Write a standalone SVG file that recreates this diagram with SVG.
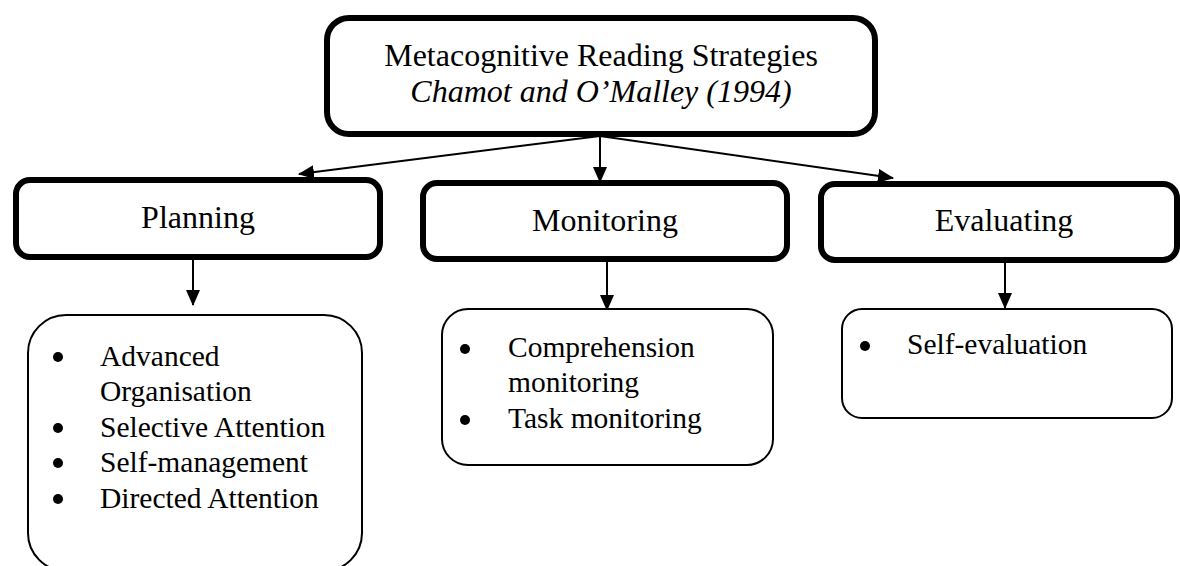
<svg xmlns="http://www.w3.org/2000/svg" width="1180" height="566" viewBox="0 0 1180 566">
<defs>
<style>
.head{fill:#fff;stroke:#000;stroke-width:6}
.sub{fill:#fff;stroke:#000;stroke-width:2}
.t{font-family:"Liberation Serif","Times New Roman",serif;font-size:32px;fill:#000}
.b{font-size:29.5px}
.c{text-anchor:middle}
.it{font-style:italic}
.con{stroke:#000;stroke-width:2;fill:none}
</style>
<marker id="ah" markerUnits="userSpaceOnUse" markerWidth="16" markerHeight="14" refX="15" refY="7" orient="auto">
<path d="M0,0 L16,7 L0,14 Z" fill="#000"/>
</marker>
</defs>
<rect width="1180" height="566" fill="#fff"/>
<g id="connectors">
<line class="con" x1="600" y1="136" x2="299" y2="174" marker-end="url(#ah)"/>
<line class="con" x1="600" y1="136" x2="600" y2="182" marker-end="url(#ah)"/>
<line class="con" x1="600" y1="136" x2="893" y2="178" marker-end="url(#ah)"/>
<line class="con" x1="193" y1="258" x2="193" y2="305" marker-end="url(#ah)"/>
<line class="con" x1="607" y1="261" x2="607" y2="310" marker-end="url(#ah)"/>
<line class="con" x1="1005" y1="260" x2="1005" y2="308" marker-end="url(#ah)"/>
</g>
<g id="root">
<rect class="head" x="327" y="18" width="548" height="116" rx="22"/>
<text class="t c" x="601" y="66">Metacognitive Reading Strategies</text>
<text class="t c it" x="601" y="102">Chamot and O’Malley (1994)</text>
</g>
<g id="planning">
<rect class="head" x="16" y="180" width="364" height="77" rx="14"/>
<text class="t c" x="198" y="228">Planning</text>
</g>
<g id="monitoring">
<rect class="head" x="423" y="183" width="364" height="76" rx="14"/>
<text class="t c" x="605" y="231">Monitoring</text>
</g>
<g id="evaluating">
<rect class="head" x="821" y="184" width="356" height="76" rx="14"/>
<text class="t c" x="1004" y="231">Evaluating</text>
</g>
<g id="planning-items">
<rect class="sub" x="28" y="315" width="334" height="256" rx="38"/>
<circle cx="58" cy="357" r="5"/>
<circle cx="58" cy="428" r="5"/>
<circle cx="58" cy="463" r="5"/>
<circle cx="58" cy="499" r="5"/>
<text class="t b" x="100" y="366">Advanced</text>
<text class="t b" x="100" y="401">Organisation</text>
<text class="t b" x="100" y="437">Selective Attention</text>
<text class="t b" x="100" y="472">Self-management</text>
<text class="t b" x="100" y="508">Directed Attention</text>
</g>
<g id="monitoring-items">
<rect class="sub" x="442" y="309" width="331" height="156" rx="26"/>
<circle cx="465" cy="349" r="5"/>
<circle cx="465" cy="420" r="5"/>
<text class="t b" x="508" y="357">Comprehension</text>
<text class="t b" x="508" y="392">monitoring</text>
<text class="t b" x="508" y="428">Task monitoring</text>
</g>
<g id="evaluating-items">
<rect class="sub" x="842" y="309" width="330" height="109" rx="20"/>
<circle cx="865" cy="346" r="5"/>
<text class="t b" x="907" y="354">Self-evaluation</text>
</g>
</svg>
